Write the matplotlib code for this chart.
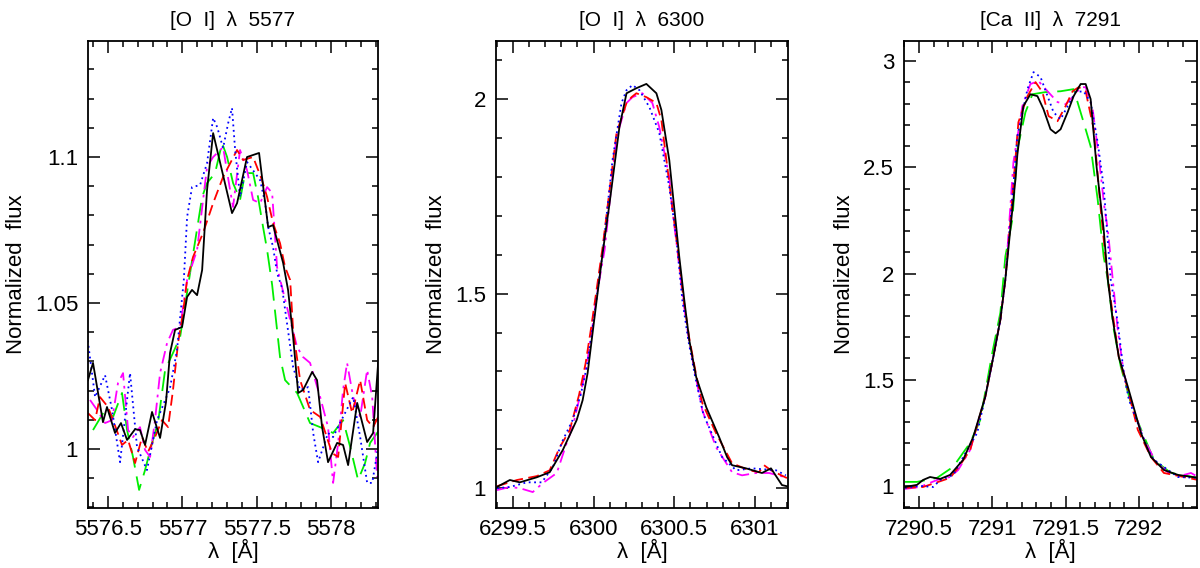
import matplotlib
matplotlib.use("Agg")
import matplotlib.pyplot as plt
from matplotlib.ticker import MultipleLocator, FormatStrFormatter, FuncFormatter

plt.rcParams["font.family"] = ["Liberation Sans", "DejaVu Sans"]

# ==========================
# [O I] 5577
# ==========================
o5577_black_x = [5576.365, 5576.399, 5576.466, 5576.493, 5576.547, 5576.587, 5576.628, 5576.682,
                 5576.715, 5576.749, 5576.796, 5576.850, 5576.890, 5576.917, 5576.951, 5576.998,
                 5577.032, 5577.065, 5577.099, 5577.133, 5577.166, 5577.207, 5577.334, 5577.368,
                 5577.435, 5577.516, 5577.577, 5577.610, 5577.678, 5577.711, 5577.745, 5577.779,
                 5577.812, 5577.873, 5577.906, 5577.940, 5577.980, 5578.041, 5578.081, 5578.115,
                 5578.176, 5578.243, 5578.283, 5578.317]
o5577_black_y = [1.0236, 1.0295, 1.0092, 1.0144, 1.0055, 1.0089, 1.0031, 1.0068,
                 1.0065, 1.0014, 1.0127, 1.0038, 1.0161, 1.0329, 1.0408, 1.0418,
                 1.0521, 1.0545, 1.0527, 1.0613, 1.0887, 1.1082, 1.0808, 1.0842,
                 1.1000, 1.1014, 1.0760, 1.0767, 1.0637, 1.0545, 1.0384, 1.0192,
                 1.0202, 1.0264, 1.0236, 1.0075, 0.9955, 1.0021, 1.0014, 0.9945,
                 1.0158, 1.0024, 1.0055, 1.0295]

o5577_blue_x = [5576.359, 5576.413, 5576.480, 5576.527, 5576.581, 5576.648, 5576.695, 5576.762,
                5576.830, 5576.917, 5576.964, 5576.985, 5577.010, 5577.032, 5577.065, 5577.119,
                5577.166, 5577.207, 5577.234, 5577.274, 5577.308, 5577.334, 5577.355, 5577.388,
                5577.435, 5577.523, 5577.557, 5577.577, 5577.610, 5577.637, 5577.671, 5577.745,
                5577.792, 5577.846, 5577.880, 5577.913, 5577.980, 5578.014, 5578.081, 5578.149,
                5578.196, 5578.243, 5578.277, 5578.317]
o5577_blue_y = [1.0390, 1.0178, 1.0253, 1.0134, 0.9955, 1.0260, 1.0007, 0.9928,
                1.0099, 1.0209, 1.0339, 1.0450, 1.0580, 1.0795, 1.0897, 1.0904,
                1.0979, 1.1134, 1.1103, 1.1031, 1.1116, 1.1168, 1.1024, 1.0863,
                1.0983, 1.0921, 1.0842, 1.0760, 1.0692, 1.0603, 1.0551, 1.0281,
                1.0202, 1.0212, 1.0055, 0.9955, 1.0055, 1.0041, 1.0110, 1.0178,
                1.0041, 0.9884, 0.9884, 1.0007]

o5577_red_x = [5576.365, 5576.413, 5576.446, 5576.500, 5576.534, 5576.594, 5576.635, 5576.682,
               5576.729, 5576.769, 5576.816, 5576.863, 5576.904, 5576.937, 5576.971, 5577.005,
               5577.032, 5577.072, 5577.139, 5577.207, 5577.274, 5577.368, 5577.408, 5577.476,
               5577.536, 5577.570, 5577.610, 5577.657, 5577.691, 5577.725, 5577.745, 5577.792,
               5577.859, 5577.927, 5578.007, 5578.048, 5578.095, 5578.142, 5578.196, 5578.243,
               5578.283, 5578.317]
o5577_red_y = [1.0123, 1.0099, 1.0178, 1.0144, 1.0099, 1.0014, 1.0031, 0.9952,
               1.0041, 0.9990, 1.0041, 1.0099, 1.0075, 1.0202, 1.0363, 1.0470,
               1.0580, 1.0658, 1.0740, 1.0842, 1.0932, 1.1024, 1.0990, 1.1000,
               1.0921, 1.0863, 1.0774, 1.0705, 1.0623, 1.0579, 1.0408, 1.0236,
               1.0134, 1.0110, 0.9986, 0.9973, 1.0226, 1.0123, 1.0236, 1.0099,
               1.0075, 1.0110]

o5577_green_x = [5576.399, 5576.480, 5576.534, 5576.594, 5576.628, 5576.668, 5576.709, 5576.749,
                 5576.796, 5576.836, 5576.884, 5576.937, 5576.985, 5577.052, 5577.133, 5577.166,
                 5577.220, 5577.267, 5577.301, 5577.341, 5577.388, 5577.422, 5577.476, 5577.509,
                 5577.543, 5577.570, 5577.604, 5577.657, 5577.691, 5577.772, 5577.859, 5577.974,
                 5578.014, 5578.081, 5578.129, 5578.182, 5578.229, 5578.263, 5578.317]
o5577_green_y = [1.0065, 1.0134, 1.0110, 1.0192, 1.0065, 0.9973, 0.9860, 0.9928,
                 1.0021, 1.0089, 1.0271, 1.0329, 1.0384, 1.0603, 1.0863, 1.0911,
                 1.0945, 1.1048, 1.1000, 1.0911, 1.0853, 1.0945, 1.0945, 1.0863,
                 1.0760, 1.0682, 1.0562, 1.0315, 1.0236, 1.0192, 1.0089, 1.0065,
                 1.0055, 1.0099, 1.0007, 0.9894, 0.9952, 1.0021, 1.0060]

o5577_magenta_x = [5576.379, 5576.426, 5576.480, 5576.527, 5576.567, 5576.601, 5576.635, 5576.668,
                   5576.715, 5576.749, 5576.783, 5576.816, 5576.850, 5576.897, 5576.937, 5576.985,
                   5577.032, 5577.099, 5577.166, 5577.207, 5577.274, 5577.321, 5577.341, 5577.388,
                   5577.435, 5577.476, 5577.523, 5577.570, 5577.604, 5577.637, 5577.725, 5577.772,
                   5577.812, 5577.859, 5577.927, 5577.980, 5578.014, 5578.048, 5578.081, 5578.108,
                   5578.149, 5578.196, 5578.243, 5578.277, 5578.310]
o5577_magenta_y = [1.0168, 1.0134, 1.0089, 1.0099, 1.0226, 1.0260, 1.0065, 1.0041,
                   1.0075, 0.9997, 0.9973, 1.0099, 1.0260, 1.0363, 1.0408, 1.0418,
                   1.0579, 1.0682, 1.0966, 1.1000, 1.1034, 1.0887, 1.0829, 1.1024,
                   1.0955, 1.0853, 1.0842, 1.0897, 1.0877, 1.0623, 1.0442, 1.0349,
                   1.0315, 1.0295, 1.0178, 1.0075, 0.9884, 1.0021, 1.0202, 1.0295,
                   1.0178, 1.0110, 1.0271, 1.0178, 0.9904]

# ==========================
# [O I] 6300
# ==========================
o6300_black_x = [6299.401, 6299.481, 6299.543, 6299.648, 6299.728, 6299.809, 6299.895, 6299.932,
                 6299.963, 6299.988, 6300.019, 6300.056, 6300.099, 6300.160, 6300.204, 6300.265,
                 6300.327, 6300.389, 6300.420, 6300.469, 6300.512, 6300.531, 6300.562, 6300.593,
                 6300.636, 6300.698, 6300.778, 6300.827, 6300.858, 6300.944, 6301.043, 6301.099,
                 6301.167, 6301.198]
o6300_black_y = [1.003, 1.021, 1.015, 1.028, 1.041, 1.098, 1.175, 1.226,
                 1.296, 1.380, 1.483, 1.604, 1.733, 1.928, 2.015, 2.028,
                 2.039, 2.015, 1.972, 1.843, 1.671, 1.594, 1.483, 1.380,
                 1.285, 1.208, 1.131, 1.080, 1.059, 1.051, 1.039, 1.051,
                 1.008, 1.005]

o6300_blue_x = [6299.401, 6299.481, 6299.586, 6299.679, 6299.747, 6299.809, 6299.870, 6299.920,
                6299.957, 6299.988, 6300.019, 6300.056, 6300.117, 6300.173, 6300.204, 6300.241,
                6300.284, 6300.346, 6300.407, 6300.469, 6300.512, 6300.550, 6300.587, 6300.630,
                6300.680, 6300.796, 6300.883, 6300.981, 6301.130, 6301.191]
o6300_blue_y = [1.000, 1.003, 1.015, 1.015, 1.054, 1.123, 1.175, 1.240,
                1.310, 1.395, 1.490, 1.604, 1.843, 1.990, 2.023, 2.036,
                2.023, 1.979, 1.913, 1.774, 1.645, 1.483, 1.380, 1.285,
                1.190, 1.080, 1.046, 1.051, 1.046, 1.033]

o6300_red_x = [6299.401, 6299.525, 6299.648, 6299.728, 6299.790, 6299.852, 6299.910, 6299.950,
               6299.982, 6300.015, 6300.056, 6300.142, 6300.204, 6300.235, 6300.265, 6300.327,
               6300.389, 6300.420, 6300.488, 6300.519, 6300.556, 6300.593, 6300.636, 6300.673,
               6300.759, 6300.858, 6300.963, 6301.025, 6301.056, 6301.099, 6301.198]
o6300_red_y = [1.005, 1.021, 1.031, 1.046, 1.105, 1.149, 1.240, 1.320,
               1.405, 1.500, 1.620, 1.913, 1.990, 2.005, 2.015, 2.005,
               1.990, 1.946, 1.722, 1.620, 1.490, 1.385, 1.290, 1.219,
               1.141, 1.064, 1.046, 1.041, 1.059, 1.046, 1.026]

o6300_magenta_x = [6299.401, 6299.481, 6299.543, 6299.623, 6299.685, 6299.772, 6299.833, 6299.870,
                   6299.920, 6299.957, 6299.988, 6300.019, 6300.068, 6300.142, 6300.204, 6300.241,
                   6300.302, 6300.364, 6300.407, 6300.469, 6300.488, 6300.519, 6300.556, 6300.593,
                   6300.636, 6300.673, 6300.759, 6300.858, 6300.920, 6301.006, 6301.087, 6301.191]
o6300_magenta_y = [0.995, 1.003, 1.000, 0.990, 1.013, 1.039, 1.116, 1.157,
                   1.245, 1.315, 1.400, 1.495, 1.612, 1.902, 1.990, 2.005,
                   2.015, 1.990, 1.928, 1.799, 1.715, 1.612, 1.480, 1.375,
                   1.280, 1.201, 1.105, 1.041, 1.033, 1.039, 1.039, 1.028]

# ==========================
# [Ca II] 7291
# ==========================
ca7291_black_x = [7290.404, 7290.486, 7290.527, 7290.575, 7290.644, 7290.712, 7290.801, 7290.870,
                  7290.952, 7291.007, 7291.055, 7291.089, 7291.123, 7291.158, 7291.171, 7291.212,
                  7291.260, 7291.308, 7291.349, 7291.397, 7291.432, 7291.466, 7291.514, 7291.555,
                  7291.603, 7291.637, 7291.671, 7291.712, 7291.760, 7291.788, 7291.822, 7291.863,
                  7291.925, 7292.014, 7292.082, 7292.171, 7292.267, 7292.404]
ca7291_black_y = [0.995, 1.005, 1.028, 1.042, 1.033, 1.052, 1.123, 1.231,
                  1.420, 1.608, 1.783, 1.972, 2.208, 2.443, 2.560, 2.788,
                  2.844, 2.835, 2.774, 2.679, 2.660, 2.679, 2.759, 2.835,
                  2.892, 2.892, 2.821, 2.500, 2.208, 1.972, 1.783, 1.608,
                  1.467, 1.250, 1.137, 1.075, 1.052, 1.038]

ca7291_blue_x = [7290.404, 7290.507, 7290.596, 7290.644, 7290.733, 7290.829, 7290.897, 7290.952,
                 7291.007, 7291.055, 7291.089, 7291.123, 7291.171, 7291.240, 7291.281, 7291.329,
                 7291.377, 7291.418, 7291.466, 7291.514, 7291.568, 7291.623, 7291.671, 7291.719,
                 7291.760, 7291.808, 7291.856, 7291.897, 7291.932, 7292.062, 7292.103, 7292.267,
                 7292.404]
ca7291_blue_y = [0.991, 1.000, 0.995, 1.028, 1.052, 1.170, 1.250, 1.420,
                 1.608, 1.783, 1.972, 2.241, 2.646, 2.868, 2.948, 2.925,
                 2.835, 2.759, 2.726, 2.788, 2.854, 2.858, 2.807, 2.618,
                 2.410, 1.972, 1.769, 1.533, 1.406, 1.170, 1.123, 1.042,
                 1.038]

ca7291_red_x = [7290.404, 7290.527, 7290.610, 7290.712, 7290.781, 7290.849, 7290.952, 7291.007,
                7291.055, 7291.089, 7291.123, 7291.178, 7291.240, 7291.295, 7291.342, 7291.384,
                7291.445, 7291.500, 7291.548, 7291.589, 7291.637, 7291.692, 7291.740, 7291.774,
                7291.808, 7291.863, 7291.925, 7291.993, 7292.082, 7292.171, 7292.308, 7292.404]
ca7291_red_y = [0.991, 0.995, 1.014, 1.038, 1.099, 1.170, 1.420, 1.608,
                1.783, 1.972, 2.241, 2.712, 2.835, 2.901, 2.854, 2.741,
                2.717, 2.788, 2.858, 2.877, 2.858, 2.679, 2.302, 2.066,
                1.877, 1.608, 1.453, 1.264, 1.137, 1.061, 1.042, 1.028]

ca7291_green_x = [7290.404, 7290.486, 7290.623, 7290.733, 7290.849, 7290.918, 7291.000, 7291.055,
                  7291.089, 7291.137, 7291.171, 7291.226, 7291.274, 7291.363, 7291.466, 7291.555,
                  7291.623, 7291.671, 7291.719, 7291.760, 7291.788, 7291.829, 7291.877, 7291.959,
                  7292.103, 7292.219, 7292.404]
ca7291_green_y = [1.019, 1.019, 1.038, 1.090, 1.203, 1.311, 1.627, 1.816,
                  2.080, 2.255, 2.585, 2.759, 2.844, 2.854, 2.858, 2.868,
                  2.712, 2.599, 2.349, 2.080, 1.972, 1.736, 1.561, 1.358,
                  1.123, 1.061, 1.038]

ca7291_magenta_x = [7290.404, 7290.507, 7290.555, 7290.623, 7290.712, 7290.767, 7290.849, 7290.952,
                    7291.007, 7291.055, 7291.089, 7291.144, 7291.205, 7291.260, 7291.315, 7291.377,
                    7291.445, 7291.500, 7291.555, 7291.603, 7291.637, 7291.685, 7291.726, 7291.767,
                    7291.788, 7291.822, 7291.856, 7291.897, 7291.959, 7292.027, 7292.116, 7292.219,
                    7292.308, 7292.356, 7292.404]
ca7291_magenta_y = [0.986, 0.995, 1.009, 1.028, 1.042, 1.075, 1.170, 1.420,
                    1.608, 1.783, 1.972, 2.524, 2.788, 2.892, 2.906, 2.858,
                    2.807, 2.797, 2.835, 2.877, 2.877, 2.774, 2.552, 2.300,
                    2.208, 1.972, 1.736, 1.533, 1.373, 1.231, 1.113, 1.052,
                    1.052, 1.061, 1.042]

titles = ["[O  I]  λ  5577", "[O  I]  λ  6300", "[Ca  II]  λ  7291"]

estilos = {
    "green": dict(color="#00ee00", linestyle=(0, (11, 5))),
    "magenta": dict(color="#ff00ff", linestyle=(0, (7, 3, 1.5, 3))),
    "red": dict(color="#ff0000", linestyle=(0, (6, 3))),
    "blue": dict(color="#0000ff", linestyle=(0, (1, 2))),
    "black": dict(color="black", linestyle="-"),
}

paineis = [
    dict(series={"green": (o5577_green_x, o5577_green_y),
                 "magenta": (o5577_magenta_x, o5577_magenta_y),
                 "red": (o5577_red_x, o5577_red_y),
                 "blue": (o5577_blue_x, o5577_blue_y),
                 "black": (o5577_black_x, o5577_black_y)},
         xlim=(5576.365, 5578.316), ylim=(0.9798, 1.1397),
         ymaj=0.05, ymin=0.01, pos=[0.0733, 0.1056, 0.2417, 0.822]),
    dict(series={"magenta": (o6300_magenta_x, o6300_magenta_y),
                 "red": (o6300_red_x, o6300_red_y),
                 "blue": (o6300_blue_x, o6300_blue_y),
                 "black": (o6300_black_x, o6300_black_y)},
         xlim=(6299.395, 6301.204), ylim=(0.949, 2.149),
         ymaj=0.5, ymin=0.1, pos=[0.4133, 0.1056, 0.2433, 0.822]),
    dict(series={"green": (ca7291_green_x, ca7291_green_y),
                 "magenta": (ca7291_magenta_x, ca7291_magenta_y),
                 "red": (ca7291_red_x, ca7291_red_y),
                 "blue": (ca7291_blue_x, ca7291_blue_y),
                 "black": (ca7291_black_x, ca7291_black_y)},
         xlim=(7290.397, 7292.397), ylim=(0.896, 3.094),
         ymaj=0.5, ymin=0.1, pos=[0.7533, 0.1056, 0.2442, 0.822]),
]

fig = plt.figure(figsize=(12, 5.68), dpi=100)

fmt = FuncFormatter(lambda v, p: ("%.2f" % v).rstrip("0").rstrip("."))

for titulo, p in zip(titles, paineis):
    ax = fig.add_axes(p["pos"])
    for nome, (xs, ys) in p["series"].items():
        ax.plot(xs, ys, linewidth=1.3, **estilos[nome])
    ax.set_xlim(*p["xlim"])
    ax.set_ylim(*p["ylim"])
    ax.xaxis.set_major_locator(MultipleLocator(0.5))
    ax.xaxis.set_minor_locator(MultipleLocator(0.1))
    ax.yaxis.set_major_locator(MultipleLocator(p["ymaj"]))
    ax.yaxis.set_minor_locator(MultipleLocator(p["ymin"]))
    ax.xaxis.set_major_formatter(FormatStrFormatter("%g"))
    ax.yaxis.set_major_formatter(fmt)
    ax.tick_params(which="both", direction="in", top=True, right=True, width=1.1, labelsize=16)
    ax.tick_params(which="major", length=8.5)
    ax.tick_params(which="minor", length=4.3)
    ax.tick_params(axis="x", pad=8)
    ax.tick_params(axis="y", pad=7)
    for s in ax.spines.values():
        s.set_linewidth(1.3)
    ax.set_title(titulo, fontsize=15, pad=11)
    ax.set_xlabel("λ  [Å]", fontsize=16, labelpad=-1)
    ax.set_ylabel("Normalized  flux", fontsize=16, labelpad=6)

fig.savefig("out.png", dpi=100)
